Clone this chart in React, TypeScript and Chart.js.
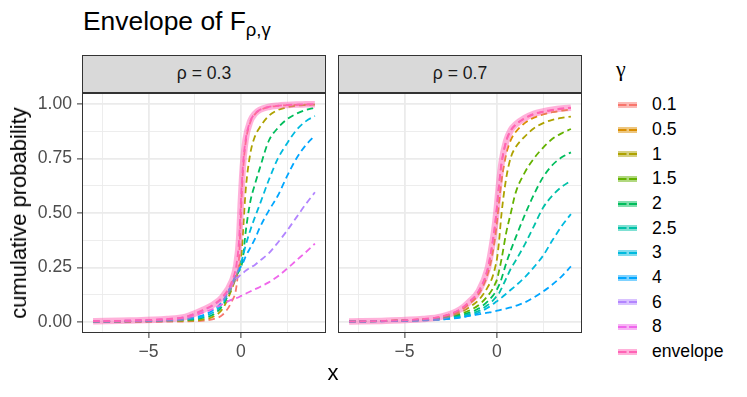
import React, { useEffect, useRef } from "react";
import { Chart, registerables } from "chart.js";

Chart.register(...registerables);

const FONT = "'Liberation Sans', Arial, Helvetica, sans-serif";
const SYMBOL_FONT = "'Liberation Serif', 'DejaVu Serif', serif";

// ---------- data ----------
const xValues = [-8, -6, -4, -3, -2, -1.5, -1, -0.5, -0.25, -0.1, 0, 0.1, 0.25, 0.5, 0.75, 1, 1.5, 2, 2.5, 3, 3.5, 4];

const gammaLevels = ["0.1", "0.5", "1", "1.5", "2", "2.5", "3", "4", "6", "8", "envelope"];
const gammaColors = ["#F8766D", "#DB8E00", "#AEA200", "#64B200", "#00BD5C", "#00C1A7", "#00BADE", "#00A6FF", "#B385FF", "#EF67EB", "#FF63B6"];

const facetLabels = ["ρ = 0.3", "ρ = 0.7"];

// rho = 0.3
const r3_g0_1 = [0.0005, 0.001, 0.002, 0.003, 0.007, 0.014, 0.033, 0.095, 0.16, 0.3, 0.5, 0.68, 0.82, 0.915, 0.952, 0.97, 0.985, 0.991, 0.994, 0.996, 0.997, 0.998];
const r3_g1 = [0.001, 0.002, 0.004, 0.006, 0.012, 0.025, 0.06, 0.15, 0.21, 0.25, 0.29, 0.4, 0.6, 0.77, 0.85, 0.89, 0.945, 0.972, 0.985, 0.992, 0.995, 0.997];
const r3_g2 = [0.002, 0.003, 0.006, 0.01, 0.02, 0.035, 0.075, 0.16, 0.21, 0.235, 0.25, 0.29, 0.41, 0.55, 0.63, 0.7, 0.83, 0.89, 0.93, 0.955, 0.972, 0.983];
const r3_g3 = [0.002, 0.004, 0.008, 0.013, 0.026, 0.045, 0.085, 0.17, 0.22, 0.245, 0.27, 0.3, 0.35, 0.42, 0.48, 0.535, 0.65, 0.75, 0.82, 0.88, 0.92, 0.945];
const r3_g4 = [0.003, 0.005, 0.01, 0.016, 0.033, 0.055, 0.095, 0.175, 0.22, 0.24, 0.255, 0.27, 0.3, 0.34, 0.38, 0.43, 0.51, 0.58, 0.67, 0.75, 0.81, 0.855];
const r3_g6 = [0.004, 0.007, 0.014, 0.024, 0.055, 0.077, 0.11, 0.17, 0.2, 0.21, 0.22, 0.225, 0.235, 0.25, 0.262, 0.28, 0.315, 0.365, 0.42, 0.48, 0.54, 0.595];
const r3_g8 = [0.004, 0.007, 0.013, 0.021, 0.045, 0.06, 0.082, 0.103, 0.11, 0.115, 0.12, 0.123, 0.13, 0.14, 0.15, 0.16, 0.182, 0.21, 0.245, 0.283, 0.32, 0.36];
const r3_env = [0.004, 0.007, 0.014, 0.024, 0.058, 0.08, 0.115, 0.185, 0.26, 0.38, 0.56, 0.71, 0.835, 0.92, 0.955, 0.972, 0.986, 0.992, 0.995, 0.997, 0.998, 0.999];

// rho = 0.7
const r7_g0_1 = [0.003, 0.006, 0.014, 0.025, 0.057, 0.092, 0.139, 0.243, 0.357, 0.447, 0.527, 0.617, 0.727, 0.828, 0.878, 0.903, 0.933, 0.953, 0.963, 0.971, 0.977, 0.982];
const r7_g0_5 = [0.003, 0.006, 0.013, 0.023, 0.052, 0.083, 0.127, 0.22, 0.31, 0.39, 0.46, 0.54, 0.65, 0.77, 0.835, 0.87, 0.912, 0.937, 0.952, 0.962, 0.969, 0.975];
const r7_g1 = [0.003, 0.005, 0.012, 0.02, 0.044, 0.068, 0.1, 0.16, 0.205, 0.25, 0.29, 0.36, 0.5, 0.66, 0.755, 0.8, 0.85, 0.888, 0.912, 0.927, 0.936, 0.942];
const r7_g1_5 = [0.003, 0.005, 0.011, 0.018, 0.036, 0.053, 0.077, 0.12, 0.15, 0.175, 0.195, 0.23, 0.29, 0.41, 0.5, 0.59, 0.685, 0.75, 0.8, 0.84, 0.865, 0.885];
const r7_g2 = [0.003, 0.005, 0.01, 0.016, 0.031, 0.043, 0.062, 0.095, 0.118, 0.135, 0.15, 0.167, 0.2, 0.27, 0.33, 0.385, 0.49, 0.585, 0.665, 0.72, 0.755, 0.778];
const r7_g2_5 = [0.003, 0.005, 0.009, 0.014, 0.026, 0.036, 0.051, 0.078, 0.096, 0.11, 0.12, 0.13, 0.155, 0.2, 0.245, 0.28, 0.355, 0.44, 0.525, 0.58, 0.62, 0.648];
const r7_g3 = [0.002, 0.004, 0.008, 0.012, 0.022, 0.03, 0.043, 0.066, 0.08, 0.09, 0.096, 0.102, 0.112, 0.13, 0.148, 0.166, 0.205, 0.252, 0.305, 0.375, 0.44, 0.495];
const r7_g4 = [0.002, 0.004, 0.008, 0.012, 0.02, 0.028, 0.035, 0.043, 0.047, 0.05, 0.052, 0.054, 0.057, 0.062, 0.067, 0.074, 0.09, 0.113, 0.14, 0.172, 0.21, 0.255];
const r7_env = [0.003, 0.006, 0.014, 0.025, 0.058, 0.093, 0.14, 0.245, 0.36, 0.45, 0.53, 0.62, 0.73, 0.83, 0.88, 0.905, 0.935, 0.955, 0.965, 0.973, 0.979, 0.983];

// axes
const xTickValues = [-5, 0];
const xTickLabels = ["−5", "0"];
const xMinorValues = [-7.5, -2.5, 2.5];
const yTickValues = [0, 0.25, 0.5, 0.75, 1];
const yTickLabels = ["0.00", "0.25", "0.50", "0.75", "1.00"];
const yMinorValues = [0.125, 0.375, 0.625, 0.875];

const titleMain = "Envelope of F";
const titleSub = "ρ,γ";
const xTitle = "x";
const yTitle = "cumulative probability";
const legendTitle = "γ";

const panel1Series: [string, number[]][] = [
  ["0.1", r3_g0_1], ["1", r3_g1], ["2", r3_g2], ["3", r3_g3], ["4", r3_g4], ["6", r3_g6], ["8", r3_g8], ["envelope", r3_env],
];
const panel2Series: [string, number[]][] = [
  ["0.1", r7_g0_1], ["0.5", r7_g0_5], ["1", r7_g1], ["1.5", r7_g1_5], ["2", r7_g2], ["2.5", r7_g2_5], ["3", r7_g3], ["4", r7_g4], ["envelope", r7_env],
];

// ---------- helpers ----------
function hexA(hex: string, a: number) {
  const r = parseInt(hex.slice(1, 3), 16);
  const g = parseInt(hex.slice(3, 5), 16);
  const b = parseInt(hex.slice(5, 7), 16);
  return `rgba(${r},${g},${b},${a})`;
}

const TICK_FONT = 17.6;
const DASH = [6.5, 4];

function buildDatasets(series: [string, number[]][], env: number[]) {
  const pts = (ys: number[]) => xValues.map((x, i) => ({ x, y: ys[i] }));
  const envColor = gammaColors[gammaLevels.indexOf("envelope")];
  const ds: any[] = [
    {
      label: "envelope band",
      data: pts(env),
      borderColor: hexA(envColor, 0.5),
      borderWidth: 6.5,
      order: 0,
    },
  ];
  series.forEach(([g, ys]) => {
    const idx = gammaLevels.indexOf(g);
    ds.push({
      label: g,
      data: pts(ys),
      borderColor: gammaColors[idx],
      borderWidth: 1.8,
      borderDash: DASH,
      order: 30 - idx,
    });
  });
  return ds;
}

const near = (v: number, arr: number[]) => arr.some((a) => Math.abs(a - v) < 1e-9);

const panelBorder = {
  id: "panelBorder",
  afterDraw(chart: any) {
    const { ctx, chartArea: a } = chart;
    ctx.save();
    ctx.strokeStyle = "#333333";
    ctx.lineWidth = 1;
    ctx.strokeRect(a.left + 0.5, a.top + 0.5, a.right - a.left - 1, a.bottom - a.top - 1);
    ctx.restore();
  },
};

function makeChart(canvas: HTMLCanvasElement, series: [string, number[]][], env: number[], showY: boolean, yWidth: number, padRight: number) {
  return new Chart(canvas, {
    type: "line",
    data: { datasets: buildDatasets(series, env) },
    options: {
      animation: false,
      responsive: false,
      maintainAspectRatio: false,
      layout: { padding: { left: 0, right: padRight, top: 0, bottom: 0 } },
      plugins: { legend: { display: false }, tooltip: { enabled: false }, title: { display: false } },
      elements: {
        point: { radius: 0 },
        line: { cubicInterpolationMode: "monotone", fill: false, borderCapStyle: "butt" },
      },
      scales: {
        x: {
          type: "linear",
          min: -8.6,
          max: 4.6,
          afterBuildTicks: (s: any) => {
            s.ticks = [...xMinorValues, ...xTickValues].sort((a, b) => a - b).map((v) => ({ value: v }));
          },
          afterFit: (s: any) => {
            s.height = 36;
            s.paddingLeft = 0;
            s.paddingRight = 0;
            s.paddingTop = 0;
            s.paddingBottom = 0;
          },
          ticks: {
            autoSkip: false,
            maxRotation: 0,
            padding: 4,
            color: "#4D4D4D",
            font: { family: FONT, size: TICK_FONT },
            callback: (v: any) => {
              const i = xTickValues.findIndex((t) => Math.abs(t - v) < 1e-9);
              return i >= 0 ? xTickLabels[i] : "";
            },
          },
          grid: {
            color: "#EBEBEB",
            lineWidth: (c: any) => (c.tick && near(c.tick.value, xTickValues) ? 1.8 : 0.9),
            tickLength: 5,
            tickWidth: 1,
            tickColor: (c: any) => (c.tick && near(c.tick.value, xTickValues) ? "#333333" : "rgba(0,0,0,0)"),
          },
          border: { display: false },
        },
        y: {
          type: "linear",
          min: -0.05,
          max: 1.05,
          afterBuildTicks: (s: any) => {
            s.ticks = [...yMinorValues, ...yTickValues].sort((a, b) => a - b).map((v) => ({ value: v }));
          },
          afterFit: (s: any) => {
            s.width = yWidth;
            s.paddingLeft = 0;
            s.paddingRight = 0;
            s.paddingTop = 0;
            s.paddingBottom = 0;
          },
          ticks: {
            display: showY,
            autoSkip: false,
            padding: 5,
            color: "#4D4D4D",
            font: { family: FONT, size: TICK_FONT },
            callback: (v: any) => {
              const i = yTickValues.findIndex((t) => Math.abs(t - v) < 1e-9);
              return i >= 0 ? yTickLabels[i] : "";
            },
          },
          grid: {
            color: "#EBEBEB",
            drawTicks: showY,
            lineWidth: (c: any) => (c.tick && near(c.tick.value, yTickValues) ? 1.8 : 0.9),
            tickLength: 5,
            tickWidth: 1,
            tickColor: (c: any) => (c.tick && near(c.tick.value, yTickValues) ? "#333333" : "rgba(0,0,0,0)"),
          },
          border: { display: false },
        },
      },
    } as any,
    plugins: [panelBorder],
  });
}

// ---------- layout constants ----------
const P1_LEFT = 82;
const P2_LEFT = 338;
const PANEL_W = 244;
const PANEL_TOP = 93;
const PANEL_H = 240;
const STRIP_TOP = 55;

export default function App() {
  const c1 = useRef<HTMLCanvasElement>(null);
  const c2 = useRef<HTMLCanvasElement>(null);

  useEffect(() => {
    document.body.style.margin = "0";
    const ch1 = makeChart(c1.current!, panel1Series, r3_env, true, P1_LEFT, 4);
    const ch2 = makeChart(c2.current!, panel2Series, r7_env, false, 0, 6);
    return () => {
      ch1.destroy();
      ch2.destroy();
    };
  }, []);

  const text = (extra: React.CSSProperties): React.CSSProperties => ({
    position: "absolute",
    fontFamily: FONT,
    lineHeight: 1,
    whiteSpace: "nowrap",
    ...extra,
  });

  return (
    <div style={{ position: "absolute", left: 0, top: 0, width: 747, height: 397, background: "#FFFFFF", overflow: "hidden" }}>
      {/* title */}
      <div style={text({ left: 83, top: 7.6, fontSize: 26.4, color: "#000000" })}>
        {titleMain}
        <span style={{ fontSize: 18.5, position: "relative", top: 6 }}>{titleSub}</span>
      </div>

      {/* strips */}
      {[P1_LEFT, P2_LEFT].map((l, i) => (
        <div
          key={"strip" + i}
          style={{
            position: "absolute",
            left: l,
            top: STRIP_TOP,
            width: PANEL_W,
            height: PANEL_TOP - STRIP_TOP,
            boxSizing: "border-box",
            border: "1px solid #333333",
            background: "#D9D9D9",
            display: "flex",
            alignItems: "center",
            justifyContent: "center",
            fontFamily: FONT,
            fontSize: 17.6,
            lineHeight: 1,
            color: "#1A1A1A",
            whiteSpace: "pre",
          }}
        >
          {facetLabels[i]}
        </div>
      ))}

      {/* panels */}
      <canvas ref={c1} width={P1_LEFT + PANEL_W + 4} height={PANEL_H + 36} style={{ position: "absolute", left: 0, top: PANEL_TOP }} />
      <canvas ref={c2} width={PANEL_W + 6} height={PANEL_H + 36} style={{ position: "absolute", left: P2_LEFT, top: PANEL_TOP }} />

      {/* axis titles */}
      <div style={text({ left: 333, top: 362.4, fontSize: 22, color: "#000000", transform: "translateX(-50%)" })}>{xTitle}</div>
      <div
        style={text({
          left: 19,
          top: 213,
          fontSize: 22,
          color: "#000000",
          transform: "translate(-50%, -50%) rotate(-90deg)",
        })}
      >
        {yTitle}
      </div>

      {/* legend */}
      <div style={text({ left: 616, top: 57.5, fontSize: 22, color: "#000000", fontFamily: SYMBOL_FONT })}>{legendTitle}</div>
      {gammaLevels.map((g, i) => {
        const cy = 105 + i * 24.65;
        return (
          <React.Fragment key={g}>
            <svg style={{ position: "absolute", left: 615, top: cy - 8 }} width={25} height={16}>
              <line x1={3} x2={22} y1={8} y2={8} stroke={gammaColors[i]} strokeOpacity={0.5} strokeWidth={6} />
              <line x1={3} x2={22} y1={8} y2={8} stroke={gammaColors[i]} strokeWidth={1.8} strokeDasharray="8.5 2.5" />
            </svg>
            <div style={text({ left: 652, top: cy - 8.6, fontSize: 17.6, color: "#000000" })}>{g}</div>
          </React.Fragment>
        );
      })}
    </div>
  );
}
